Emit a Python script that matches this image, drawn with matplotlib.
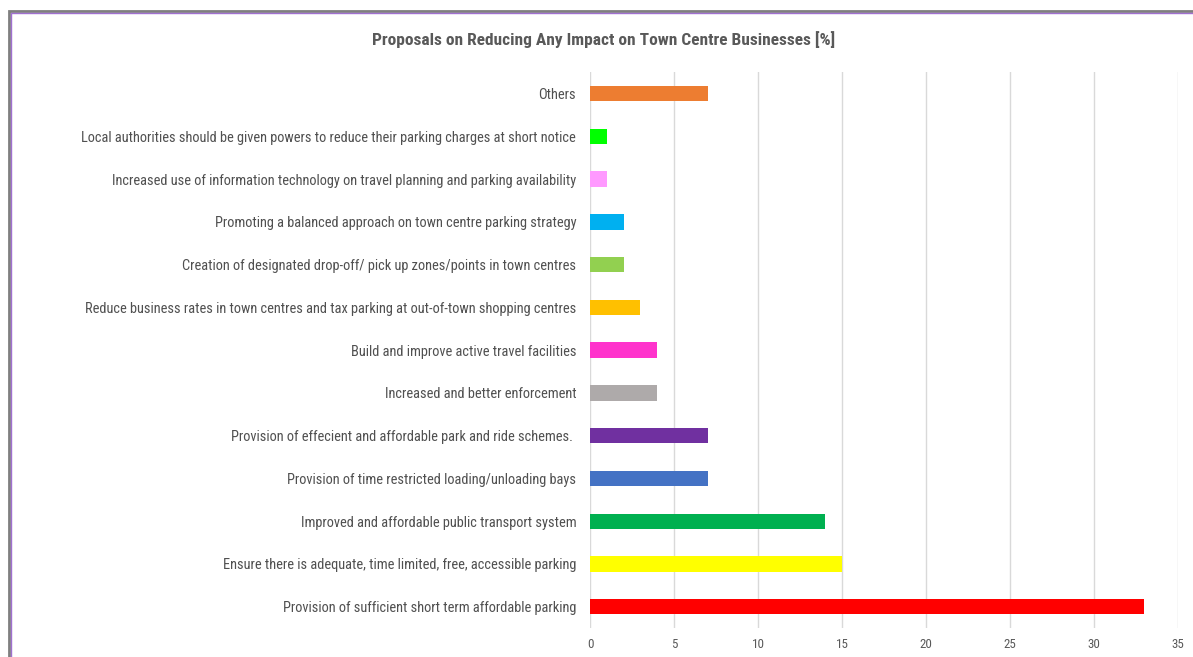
import matplotlib.pyplot as plt
from matplotlib import font_manager
from matplotlib.patches import Rectangle

labels = [
    "Provision of sufficient short term affordable parking",
    "Ensure there is adequate, time limited, free, accessible parking",
    "Improved and affordable public transport system",
    "Provision of time restricted loading/unloading bays",
    "Provision of effecient and affordable park and ride schemes. ",
    "Increased and better enforcement",
    "Build and improve active travel facilities",
    "Reduce business rates in town centres and tax parking at out-of-town shopping centres",
    "Creation of designated drop-off/ pick up zones/points in town centres",
    "Promoting a balanced approach on town centre parking strategy",
    "Increased use of information technology on travel planning and parking availability",
    "Local authorities should be given powers to reduce their parking charges at short notice",
    "Others",
]
values = [33, 15, 14, 7, 7, 4, 4, 3, 2, 2, 1, 1, 7]
colors = ['#FF0000', '#FFFF00', '#00B050', '#4472C4', '#7030A0', '#AEAAAA',
          '#FF33CC', '#FFC000', '#92D050', '#00B0F0', '#FF99FF', '#00FF00', '#ED7D31']
title = 'Proposals on Reducing Any Impact on Town Centre Businesses [%]'

# pick a narrow font if one is available
fams = {(f.name, f.stretch) for f in font_manager.fontManager.ttflist}
names = {n for n, s in fams}
family, stretch = 'DejaVu Sans', 'normal'
for cand, st in [('Roboto Condensed', 'normal'), ('Open Sans', 'condensed'),
                 ('Liberation Sans Narrow', 'normal'), ('PT Sans Narrow', 'normal'),
                 ('Carlito', 'normal'), ('Open Sans', 'normal')]:
    if st == 'normal' and cand in names:
        family, stretch = cand, 'normal'
        break
    if st != 'normal' and (cand, st) in fams:
        family, stretch = cand, st
        break
plt.rcParams['font.family'] = [family, 'DejaVu Sans']
plt.rcParams['font.stretch'] = stretch

fig = plt.figure(figsize=(11.93, 6.57), dpi=100)
r = fig.canvas.get_renderer()


def fit_size(s, px, weight='normal'):
    t = fig.text(0, 0, s, fontsize=10, fontweight=weight, fontstretch=stretch)
    w = t.get_window_extent(r).width
    t.remove()
    return 10 * px / w


lab_size = fit_size(labels[11], 496)
tit_size = fit_size(title, 462, 'bold')

ax = fig.add_axes([0.4946, 0.044, 0.4929, 0.846])
ax.barh(range(len(values)), values, height=0.36, color=colors, zorder=3)
ax.set_xlim(0, 35)
ax.set_ylim(-0.5, len(values) - 0.5)
ax.set_xticks(range(0, 36, 5))
ax.set_yticks(range(len(values)))
ax.set_yticklabels(labels, fontstretch=stretch)
ax.grid(axis='x', color='#D9D9D9', linewidth=1.0, zorder=0)
for s in ax.spines.values():
    s.set_visible(False)
ax.tick_params(axis='y', length=0, pad=10, labelsize=lab_size, labelcolor='#505050')
ax.tick_params(axis='x', length=0, pad=7, labelsize=lab_size * 0.9, labelcolor='#595959')

fig.text(0.506, 0.94, title, ha='center', va='center', fontsize=tit_size,
         fontweight='bold', color='#595959', fontstretch=stretch)

# frame around the chart area
fig.patches.append(Rectangle((0.0075, -0.1), 1.2, 1.1 - 0.0165, transform=fig.transFigure,
                             fill=False, edgecolor='#7F7F7F', linewidth=2.0))
fig.patches.append(Rectangle((0.0095, -0.1), 1.2, 1.1 - 0.0205, transform=fig.transFigure,
                             fill=False, edgecolor='#A070D0', linewidth=1.0))

fig.savefig('out.png', dpi=100)
